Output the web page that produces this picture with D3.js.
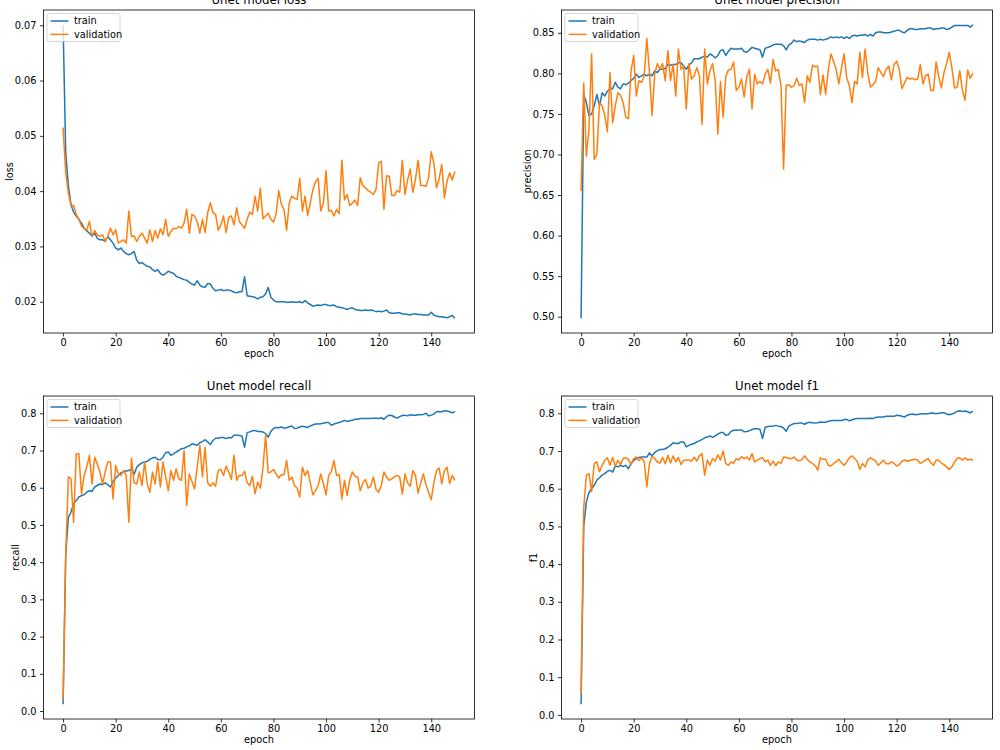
<!DOCTYPE html>
<html>
<head>
<meta charset="utf-8">
<script src="https://cdn.jsdelivr.net/npm/d3@7"></script>
<style>
  body { margin: 0; background: #fff; }
  svg text { font-family: "DejaVu Sans", sans-serif; }
</style>
</head>
<body>
<svg id="chart" width="1000" height="750"></svg>
<script>
// training history, one value per epoch (0..149)
var epochs = d3.range(150);

var lossTrain = [
  0.0701,0.0470,0.0410,0.0376,0.0362,0.0355,0.0349,0.0342,0.0333,0.0328,
  0.0324,0.0319,0.0324,0.0315,0.0312,0.0312,0.0309,0.0318,0.0312,0.0306,
  0.0297,0.0294,0.0297,0.0291,0.0287,0.0285,0.0287,0.0291,0.0275,0.0269,
  0.0271,0.0267,0.0264,0.0263,0.0258,0.0255,0.0258,0.0251,0.0248,0.0251,
  0.0255,0.0253,0.0251,0.0246,0.0244,0.0242,0.0240,0.0239,0.0235,0.0232,
  0.0230,0.0238,0.0230,0.0227,0.0226,0.0233,0.0232,0.0224,0.0220,0.0221,
  0.0222,0.0220,0.0221,0.0221,0.0220,0.0217,0.0216,0.0218,0.0218,0.0245,
  0.0211,0.0210,0.0209,0.0208,0.0205,0.0208,0.0209,0.0214,0.0226,0.0208,
  0.0203,0.0200,0.0200,0.0200,0.0200,0.0199,0.0199,0.0200,0.0199,0.0199,
  0.0200,0.0198,0.0202,0.0198,0.0195,0.0192,0.0193,0.0194,0.0193,0.0195,
  0.0195,0.0193,0.0193,0.0194,0.0191,0.0190,0.0189,0.0188,0.0186,0.0188,
  0.0189,0.0186,0.0185,0.0184,0.0184,0.0185,0.0184,0.0185,0.0184,0.0182,
  0.0183,0.0182,0.0183,0.0185,0.0180,0.0179,0.0179,0.0180,0.0180,0.0178,
  0.0178,0.0177,0.0176,0.0178,0.0178,0.0177,0.0177,0.0176,0.0176,0.0176,
  0.0181,0.0176,0.0174,0.0173,0.0173,0.0172,0.0171,0.0173,0.0175,0.0170
];
var lossVal = [
  0.0515,0.0433,0.0397,0.0374,0.0374,0.0358,0.0349,0.0337,0.0332,0.0330,
  0.0345,0.0318,0.0329,0.0321,0.0318,0.0321,0.0309,0.0318,0.0333,0.0321,
  0.0330,0.0306,0.0309,0.0312,0.0306,0.0364,0.0318,0.0319,0.0309,0.0318,
  0.0324,0.0315,0.0306,0.0330,0.0309,0.0329,0.0315,0.0332,0.0321,0.0349,
  0.0318,0.0327,0.0333,0.0332,0.0336,0.0333,0.0342,0.0367,0.0324,0.0358,
  0.0355,0.0345,0.0324,0.0349,0.0325,0.0361,0.0379,0.0361,0.0358,0.0329,
  0.0339,0.0355,0.0325,0.0353,0.0355,0.0339,0.0370,0.0345,0.0339,0.0333,
  0.0349,0.0362,0.0358,0.0391,0.0364,0.0405,0.0350,0.0355,0.0360,0.0349,
  0.0344,0.0358,0.0401,0.0376,0.0367,0.0329,0.0379,0.0391,0.0387,0.0385,
  0.0423,0.0364,0.0391,0.0356,0.0379,0.0403,0.0417,0.0423,0.0364,0.0379,
  0.0437,0.0364,0.0365,0.0355,0.0367,0.0359,0.0456,0.0384,0.0394,0.0374,
  0.0378,0.0384,0.0374,0.0424,0.0410,0.0406,0.0401,0.0398,0.0394,0.0403,
  0.0451,0.0454,0.0367,0.0428,0.0427,0.0392,0.0392,0.0401,0.0398,0.0456,
  0.0394,0.0420,0.0440,0.0398,0.0421,0.0456,0.0410,0.0410,0.0409,0.0424,
  0.0471,0.0451,0.0406,0.0422,0.0448,0.0388,0.0418,0.0433,0.0420,0.0436
];

var precisionTrain = [
  0.498,0.774,0.764,0.748,0.750,0.760,0.774,0.760,0.776,0.772,
  0.778,0.781,0.781,0.789,0.783,0.781,0.787,0.786,0.788,0.791,
  0.794,0.799,0.795,0.797,0.799,0.797,0.799,0.797,0.803,0.801,
  0.805,0.805,0.806,0.811,0.810,0.811,0.811,0.813,0.813,0.809,
  0.805,0.810,0.813,0.818,0.818,0.818,0.820,0.821,0.820,0.824,
  0.822,0.819,0.822,0.828,0.829,0.822,0.827,0.831,0.830,0.830,
  0.830,0.831,0.827,0.826,0.829,0.832,0.831,0.830,0.829,0.820,
  0.831,0.832,0.833,0.835,0.836,0.836,0.836,0.834,0.829,0.835,
  0.837,0.841,0.839,0.840,0.839,0.838,0.841,0.842,0.842,0.842,
  0.841,0.842,0.841,0.842,0.843,0.845,0.844,0.845,0.844,0.845,
  0.843,0.845,0.843,0.846,0.847,0.846,0.847,0.847,0.848,0.846,
  0.848,0.846,0.850,0.851,0.851,0.850,0.850,0.850,0.851,0.852,
  0.853,0.853,0.851,0.850,0.853,0.855,0.855,0.854,0.854,0.855,
  0.855,0.855,0.856,0.856,0.854,0.855,0.855,0.856,0.856,0.854,
  0.855,0.857,0.859,0.859,0.859,0.859,0.859,0.859,0.857,0.860
];
var precisionVal = [
  0.655,0.788,0.698,0.731,0.824,0.694,0.700,0.764,0.760,0.748,
  0.728,0.801,0.739,0.760,0.776,0.773,0.764,0.746,0.744,0.803,
  0.822,0.772,0.791,0.789,0.797,0.843,0.801,0.748,0.799,0.812,
  0.805,0.812,0.791,0.828,0.791,0.811,0.772,0.830,0.805,0.809,
  0.756,0.812,0.793,0.797,0.807,0.797,0.737,0.830,0.787,0.803,
  0.812,0.791,0.725,0.790,0.746,0.796,0.804,0.805,0.814,0.779,
  0.783,0.793,0.771,0.796,0.805,0.756,0.799,0.787,0.790,0.787,
  0.799,0.805,0.788,0.817,0.803,0.805,0.785,0.682,0.785,0.786,
  0.783,0.785,0.794,0.785,0.787,0.764,0.797,0.789,0.810,0.808,
  0.809,0.774,0.798,0.774,0.804,0.824,0.815,0.805,0.787,0.806,
  0.824,0.795,0.785,0.764,0.790,0.787,0.826,0.795,0.830,0.801,
  0.783,0.786,0.790,0.807,0.801,0.796,0.805,0.809,0.792,0.811,
  0.815,0.805,0.781,0.788,0.795,0.793,0.794,0.792,0.793,0.811,
  0.787,0.797,0.799,0.779,0.779,0.814,0.796,0.782,0.801,0.812,
  0.826,0.807,0.782,0.783,0.803,0.779,0.767,0.804,0.794,0.800
];

var recallTrain = [
  0.018,0.420,0.520,0.534,0.557,0.566,0.575,0.579,0.581,0.588,
  0.592,0.590,0.602,0.606,0.610,0.608,0.613,0.608,0.602,0.617,
  0.626,0.633,0.640,0.643,0.645,0.646,0.651,0.636,0.655,0.662,
  0.667,0.669,0.671,0.676,0.680,0.682,0.676,0.675,0.682,0.694,
  0.696,0.687,0.691,0.696,0.700,0.705,0.706,0.710,0.712,0.718,
  0.716,0.714,0.721,0.724,0.729,0.723,0.716,0.727,0.733,0.733,
  0.735,0.735,0.732,0.735,0.734,0.741,0.742,0.740,0.739,0.709,
  0.748,0.750,0.753,0.754,0.751,0.751,0.750,0.745,0.736,0.751,
  0.759,0.762,0.761,0.763,0.760,0.761,0.764,0.766,0.759,0.760,
  0.763,0.765,0.764,0.762,0.766,0.769,0.771,0.771,0.772,0.773,
  0.775,0.775,0.768,0.771,0.773,0.775,0.778,0.781,0.778,0.780,
  0.781,0.784,0.784,0.786,0.786,0.786,0.786,0.786,0.787,0.787,
  0.786,0.788,0.784,0.791,0.795,0.794,0.790,0.787,0.791,0.794,
  0.795,0.793,0.796,0.795,0.795,0.796,0.796,0.797,0.800,0.793,
  0.795,0.798,0.804,0.805,0.804,0.807,0.806,0.804,0.801,0.805
];
var recallVal = [
  0.030,0.420,0.629,0.624,0.507,0.691,0.691,0.583,0.633,0.655,
  0.687,0.610,0.682,0.664,0.642,0.610,0.642,0.669,0.669,0.570,
  0.660,0.637,0.633,0.646,0.633,0.507,0.680,0.613,0.610,0.642,
  0.606,0.669,0.610,0.588,0.642,0.610,0.669,0.602,0.669,0.629,
  0.592,0.646,0.620,0.651,0.624,0.620,0.700,0.552,0.637,0.617,
  0.597,0.655,0.714,0.629,0.709,0.613,0.604,0.613,0.604,0.646,
  0.649,0.633,0.658,0.642,0.622,0.687,0.620,0.633,0.633,0.644,
  0.613,0.606,0.631,0.584,0.615,0.599,0.653,0.741,0.640,0.642,
  0.649,0.637,0.626,0.635,0.635,0.673,0.620,0.629,0.606,0.599,
  0.575,0.655,0.633,0.646,0.613,0.581,0.592,0.606,0.637,0.610,
  0.581,0.633,0.643,0.673,0.633,0.635,0.570,0.620,0.579,0.620,
  0.642,0.631,0.629,0.592,0.613,0.622,0.599,0.604,0.629,0.595,
  0.588,0.606,0.642,0.629,0.620,0.624,0.629,0.633,0.629,0.583,
  0.637,0.613,0.604,0.646,0.633,0.586,0.613,0.637,0.608,0.588,
  0.568,0.613,0.646,0.653,0.611,0.646,0.655,0.611,0.633,0.620
];

var f1Train = [
  0.028,0.500,0.565,0.590,0.600,0.609,0.623,0.629,0.636,0.640,
  0.646,0.649,0.644,0.660,0.658,0.662,0.659,0.662,0.653,0.667,
  0.675,0.680,0.683,0.684,0.684,0.684,0.695,0.687,0.696,0.701,
  0.704,0.704,0.706,0.710,0.715,0.722,0.720,0.720,0.724,0.724,
  0.711,0.715,0.718,0.720,0.724,0.727,0.731,0.735,0.737,0.740,
  0.736,0.740,0.745,0.749,0.749,0.742,0.743,0.752,0.755,0.755,
  0.756,0.756,0.751,0.752,0.754,0.757,0.759,0.759,0.758,0.733,
  0.763,0.765,0.766,0.766,0.768,0.766,0.765,0.761,0.752,0.766,
  0.770,0.773,0.773,0.774,0.774,0.771,0.775,0.776,0.775,0.774,
  0.775,0.777,0.776,0.776,0.779,0.780,0.781,0.781,0.781,0.781,
  0.783,0.784,0.780,0.783,0.785,0.786,0.786,0.786,0.786,0.786,
  0.787,0.786,0.789,0.790,0.790,0.790,0.792,0.792,0.792,0.792,
  0.795,0.794,0.792,0.790,0.795,0.797,0.798,0.796,0.797,0.798,
  0.799,0.799,0.799,0.801,0.800,0.799,0.800,0.801,0.802,0.798,
  0.796,0.798,0.801,0.805,0.807,0.805,0.806,0.804,0.801,0.806
];
var f1Val = [
  0.055,0.548,0.636,0.640,0.592,0.667,0.671,0.645,0.662,0.675,
  0.682,0.662,0.683,0.660,0.675,0.664,0.680,0.682,0.678,0.664,
  0.680,0.684,0.675,0.682,0.671,0.605,0.667,0.686,0.680,0.671,
  0.668,0.683,0.666,0.689,0.668,0.687,0.671,0.683,0.664,0.675,
  0.676,0.676,0.673,0.684,0.673,0.687,0.693,0.636,0.676,0.662,
  0.680,0.673,0.690,0.676,0.700,0.667,0.662,0.671,0.667,0.680,
  0.676,0.685,0.680,0.684,0.676,0.693,0.671,0.676,0.680,0.682,
  0.671,0.676,0.662,0.673,0.661,0.671,0.667,0.684,0.683,0.680,
  0.680,0.684,0.676,0.674,0.677,0.687,0.678,0.671,0.667,0.661,
  0.649,0.682,0.678,0.678,0.662,0.660,0.667,0.671,0.678,0.669,
  0.662,0.671,0.682,0.687,0.680,0.673,0.651,0.667,0.658,0.676,
  0.682,0.678,0.673,0.662,0.669,0.676,0.666,0.666,0.671,0.667,
  0.660,0.664,0.673,0.676,0.673,0.675,0.677,0.678,0.676,0.667,
  0.671,0.676,0.680,0.669,0.662,0.676,0.675,0.668,0.664,0.658,
  0.651,0.658,0.671,0.680,0.682,0.676,0.682,0.676,0.678,0.675
];

var xTicks = [0, 20, 40, 60, 80, 100, 120, 140];
var lossTicks = [0.02, 0.03, 0.04, 0.05, 0.06, 0.07];
var precisionTicks = [0.50, 0.55, 0.60, 0.65, 0.70, 0.75, 0.80, 0.85];
var recallTicks = [0.0, 0.1, 0.2, 0.3, 0.4, 0.5, 0.6, 0.7, 0.8];
var f1Ticks = [0.0, 0.1, 0.2, 0.3, 0.4, 0.5, 0.6, 0.7, 0.8];
var seriesNames = ["train", "validation"];
var colors = ["#1f77b4", "#ff7f0e"];

var panels = [
  {name: "loss", train: lossTrain, val: lossVal, ticks: lossTicks, fmt: ".2f",
   left: 43.5, right: 474.5, top: 10, bottom: 333},
  {name: "precision", train: precisionTrain, val: precisionVal, ticks: precisionTicks, fmt: ".2f",
   left: 561.5, right: 992.5, top: 10, bottom: 333},
  {name: "recall", train: recallTrain, val: recallVal, ticks: recallTicks, fmt: ".1f",
   left: 43.5, right: 474.5, top: 396, bottom: 719},
  {name: "f1", train: f1Train, val: f1Val, ticks: f1Ticks, fmt: ".1f",
   left: 561.5, right: 992.5, top: 396, bottom: 719}
];

var svg = d3.select("#chart");

// matplotlib style autoscale: data extent padded by 5% on each side
function padded(lo, hi) {
  var m = (hi - lo) * 0.05;
  return [lo - m, hi + m];
}

function drawPanel(p) {
  var g = svg.append("g");

  var x = d3.scaleLinear()
      .domain(padded(0, epochs.length - 1))
      .range([p.left, p.right]);

  var ext = d3.extent(p.train.concat(p.val));
  var y = d3.scaleLinear()
      .domain(padded(ext[0], ext[1]))
      .range([p.bottom, p.top]);

  var line = d3.line()
      .x(function(d, i) { return x(epochs[i]); })
      .y(function(d) { return y(d); });

  [p.train, p.val].forEach(function(s, k) {
    g.append("path")
        .datum(s)
        .attr("fill", "none")
        .attr("stroke", colors[k])
        .attr("stroke-width", 1.5)
        .attr("stroke-linejoin", "round")
        .attr("d", line);
  });

  var xa = g.append("g")
      .attr("transform", "translate(0," + p.bottom + ")")
      .call(d3.axisBottom(x).tickValues(xTicks).tickSize(3.5).tickPadding(3));
  xa.select(".domain").remove();

  var ya = g.append("g")
      .attr("transform", "translate(" + p.left + ",0)")
      .call(d3.axisLeft(y).tickValues(p.ticks).tickFormat(d3.format(p.fmt)).tickSize(3.5).tickPadding(3.5));
  ya.select(".domain").remove();

  g.selectAll(".tick line").attr("stroke", "#000").attr("stroke-width", 0.8);
  g.selectAll(".tick text").attr("fill", "#000").style("font-size", "9.8px");

  // frame
  g.append("rect")
      .attr("x", p.left)
      .attr("y", p.top)
      .attr("width", p.right - p.left)
      .attr("height", p.bottom - p.top)
      .attr("fill", "none")
      .attr("stroke", "#000")
      .attr("stroke-width", 0.8);

  var tw = d3.max(ya.selectAll(".tick text").nodes(), function(n) { return n.getBBox().width; });

  g.append("text")
      .attr("transform", "translate(" + (p.left - tw - 9) + "," + ((p.top + p.bottom) / 2) + ") rotate(-90)")
      .attr("text-anchor", "middle")
      .style("font-size", "9.8px")
      .text(p.name);

  g.append("text")
      .attr("x", (p.left + p.right) / 2)
      .attr("y", p.bottom + 23.5)
      .attr("text-anchor", "middle")
      .style("font-size", "9.8px")
      .text("epoch");

  g.append("text")
      .attr("x", (p.left + p.right) / 2)
      .attr("y", p.top - 6)
      .attr("text-anchor", "middle")
      .style("font-size", "11.8px")
      .text("Unet model " + p.name);

  // legend, upper left
  var lg = g.append("g")
      .attr("transform", "translate(" + (p.left + 3.5) + "," + (p.top + 3.5) + ")");
  lg.append("rect")
      .attr("width", 73)
      .attr("height", 28)
      .attr("rx", 2)
      .attr("fill", "#fff")
      .attr("fill-opacity", 0.8)
      .attr("stroke", "#ccc")
      .attr("stroke-width", 0.8);
  seriesNames.forEach(function(nm, k) {
    var yy = 7.5 + k * 13.4;
    lg.append("line")
        .attr("x1", 3.5).attr("x2", 21.5)
        .attr("y1", yy).attr("y2", yy)
        .attr("stroke", colors[k])
        .attr("stroke-width", 1.5);
    lg.append("text")
        .attr("x", 27)
        .attr("y", yy)
        .attr("dy", "0.35em")
        .style("font-size", "9.8px")
        .text(nm);
  });
}

panels.forEach(drawPanel);
</script>
</body>
</html>
